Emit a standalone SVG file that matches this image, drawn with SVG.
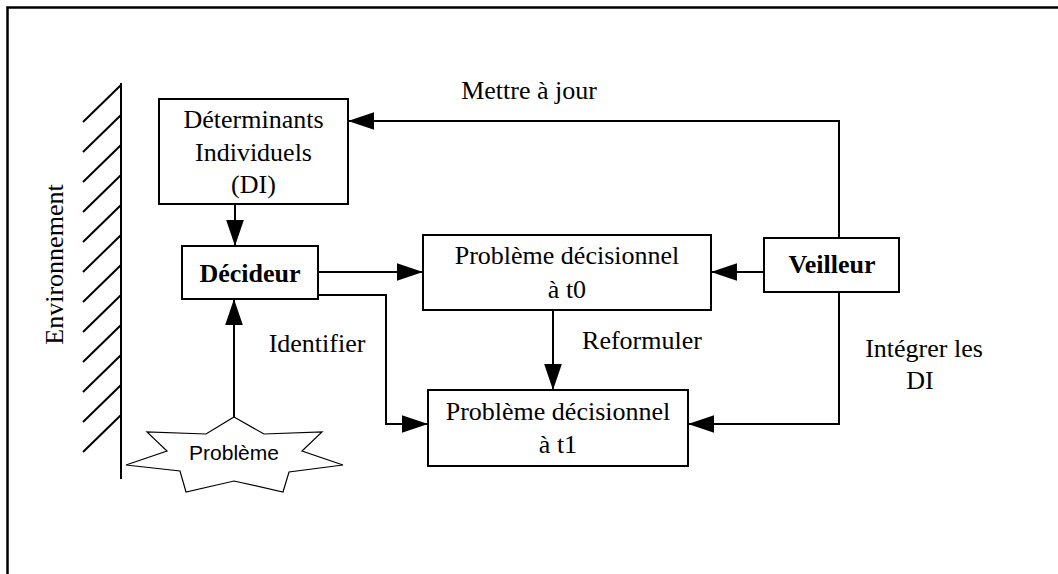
<svg xmlns="http://www.w3.org/2000/svg" width="1058" height="574" viewBox="0 0 1058 574">
<defs>
<style>
.box{fill:#fff;stroke:#000;stroke-width:2}
.ln{fill:none;stroke:#000;stroke-width:2}
.t{font-family:"Liberation Serif","Times New Roman",serif;font-size:26px;fill:#000;text-anchor:middle}
.b{font-weight:bold}
.s{font-family:"Liberation Sans",Arial,sans-serif;font-size:21px;fill:#000;text-anchor:middle}
</style>
<marker id="ah" markerUnits="userSpaceOnUse" markerWidth="26" markerHeight="18" viewBox="0 0 25 17" refX="25" refY="8.5" orient="auto">
<path d="M0,0 L25,8.5 L0,17 Z" fill="#000"/>
</marker>
</defs>
<rect width="1058" height="574" fill="#fff"/>
<path d="M7.5,580 V7.5 H1070" fill="none" stroke="#000" stroke-width="2.5"/>
<g id="environnement">
<path class="ln" d="M121,83 V479 M121,85 L83,122 M121,115 L83,152 M121,145 L83,182 M121,175 L83,212 M121,205 L83,242 M121,235 L83,272 M121,265 L83,302 M121,295 L83,332 M121,325 L83,362 M121,355 L83,392 M121,385 L83,422 M121,415 L83,452"/>
<text class="t" transform="translate(63,264.5) rotate(-90)" x="0" y="0">Environnement</text>
</g>
<g id="connectors">
<path class="ln" d="M839,238 V121 H348" marker-end="url(#ah)"/>
<path class="ln" d="M235,204 V246" marker-end="url(#ah)"/>
<path class="ln" d="M318,272 H423" marker-end="url(#ah)"/>
<path class="ln" d="M318,295 H386 V424 H428" marker-end="url(#ah)"/>
<path class="ln" d="M764,272 H711" marker-end="url(#ah)"/>
<path class="ln" d="M553,310 V390" marker-end="url(#ah)"/>
<path class="ln" d="M839,292 V424 H688" marker-end="url(#ah)"/>
<path class="ln" d="M234,417 V299" marker-end="url(#ah)"/>
<text class="t" x="529" y="99">Mettre à jour</text>
<text class="t" x="317" y="352">Identifier</text>
<text class="t" x="642" y="349">Reformuler</text>
<text class="t" x="924" y="357">Intégrer les</text>
<text class="t" x="920" y="389">DI</text>
</g>
<g id="di">
<rect class="box" x="159" y="99" width="189" height="105"/>
<text class="t" x="253.5" y="128">Déterminants</text>
<text class="t" x="253.5" y="161">Individuels</text>
<text class="t" x="253.5" y="193">(DI)</text>
</g>
<g id="decideur">
<rect class="box" x="182" y="246" width="136" height="53"/>
<text class="t b" x="250" y="282">Décideur</text>
</g>
<g id="veilleur">
<rect class="box" x="764" y="238" width="135" height="54"/>
<text class="t b" x="832" y="273">Veilleur</text>
</g>
<g id="pb-t0">
<rect class="box" x="423" y="235" width="288" height="75"/>
<text class="t" x="567" y="264">Problème décisionnel</text>
<text class="t" x="567" y="298">à t0</text>
</g>
<g id="pb-t1">
<rect class="box" x="428" y="390" width="260" height="76"/>
<text class="t" x="558" y="420">Problème décisionnel</text>
<text class="t" x="558" y="453">à t1</text>
</g>
<g id="probleme">
<polygon points="234,417 264,434 322,432 302,451 343,465 289,472 283,492 234,481 186,492 180,471 126,465 167,451 147,432 206,434" fill="#fff" stroke="#000" stroke-width="1.2"/>
<text class="s" x="234" y="460">Problème</text>
</g>
</svg>
